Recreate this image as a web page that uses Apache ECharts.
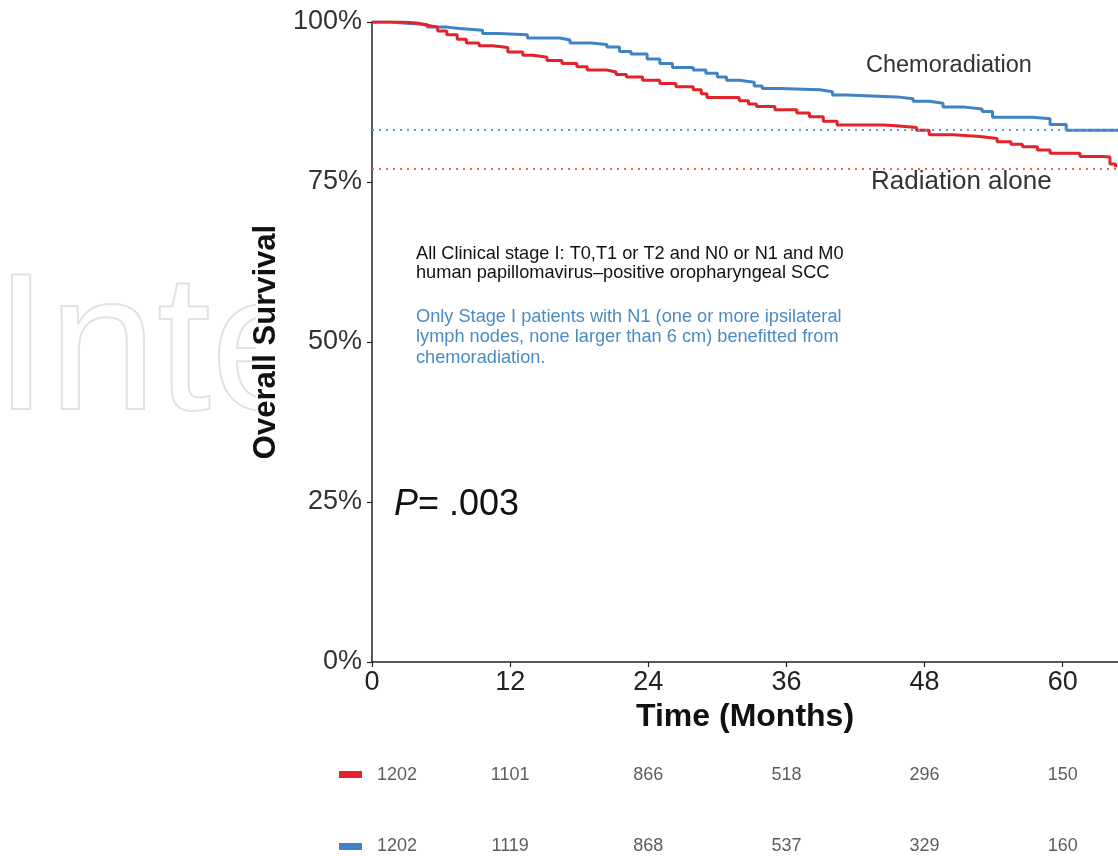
<!DOCTYPE html>
<html><head><meta charset="utf-8">
<script src="https://cdn.jsdelivr.net/npm/echarts@6/dist/echarts.min.js"></script>
<style>html,body{margin:0;padding:0;background:#fff}#c{width:1118px;height:856px}</style>
</head><body><div id="c"></div><script>
// ---- data ----
const chemoCurve = [
  [0,100],[1.6,99.8],[3,99.6],[4.8,99.2],[6.5,99.0],[7.6,98.7],[9.6,98.2],[11,98.0],
  [13.5,97.5],[16.3,97.2],[17.2,96.7],[19,96.5],[20.4,96.1],[21.5,95.4],[22.5,95.0],
  [23.9,94.2],[25,93.5],[26.1,92.9],[27.9,92.5],[29,92.0],[30,91.4],[30.8,90.9],
  [31.9,90.6],[33.2,90.0],[33.9,89.6],[35.5,89.4],[38.9,89.1],[40,88.6],[41.2,88.3],
  [45.6,88.0],[47,87.6],[48.4,87.3],[49.6,86.7],[51.5,86.4],[53,86.0],[53.9,85.1],
  [57.4,84.9],[58.9,84.0],[60.3,83.1],[64.8,83.1]
];
const radCurve = [
  [0,100],[2.7,99.8],[4.0,99.5],[4.8,99.2],[5.7,98.6],[6.5,98.0],[7.4,97.3],[8.2,96.7],
  [9.3,96.3],[10.5,96.0],[11.8,95.3],[13.1,94.8],[14,94.5],[15.2,94.0],[16.5,93.5],
  [17.8,93.0],[18.7,92.5],[20.4,92.2],[21.2,91.8],[22.1,91.4],[23.5,90.9],[25.0,90.4],
  [26.4,89.9],[27.9,89.4],[28.6,88.8],[29.1,88.2],[31.9,87.7],[32.7,87.2],[33.4,86.8],
  [35,86.3],[36.9,85.8],[38,85.2],[39.2,84.5],[40.4,83.9],[44.4,83.8],[45.5,83.5],
  [47.3,83.1],[48.4,82.4],[50.5,82.1],[52.8,81.8],[54.3,81.3],[55.5,80.9],[56.5,80.5],
  [57.8,80.0],[58.9,79.5],[61.5,79.0],[63.5,78.9],[64.1,77.8],[64.6,77.3]
];
const chemoRef = 83.1;   // dotted reference level, chemoradiation
const radRef = 77.0;     // dotted reference level, radiation alone
const xTicks = [0, 12, 24, 36, 48, 60];
const yTicks = [0, 25, 50, 75, 100];
const riskTimes = [0, 12, 24, 36, 48, 60];
const riskRad = [1202, 1101, 866, 518, 296, 150];
const riskChemo = [1202, 1119, 868, 537, 329, 160];
const seriesNames = ['Chemoradiation', 'Radiation alone'];
const pValueText = '= .003';
const noteBlack = ['All Clinical stage I: T0,T1 or T2 and N0 or N1 and M0',
                   'human papillomavirus\u2013positive oropharyngeal SCC'];
const noteBlue = ['Only Stage I patients with N1 (one or more ipsilateral',
                  'lymph nodes, none larger than 6 cm) benefitted from',
                  'chemoradiation.'];

// ---- style ----
const RED = '#e3232b', BLUE = '#3f83c5';
const SANS = '"Liberation Sans", Arial, Helvetica, sans-serif';
const X_MAX = 64.8;

const chart = echarts.init(document.getElementById('c'), null, {renderer: 'canvas'});

function riskRow(vals, yPos) {
  return riskTimes.map((t, i) => ({
    value: [t, yPos, vals[i]],
    label: i === 0 ? {align: 'left', offset: [5, 0]} : {}
  }));
}

const graphics = [
  // faint watermark (partly hidden behind plot area)
  {type: 'text', z: -3, left: -7, top: 257, style: {text: 'Inte', fill: 'rgba(255,255,255,0)', stroke: '#e2e2e2', lineWidth: 2, font: '195px ' + SANS}},
  {type: 'rect', z: -2, shape: {x: 256, y: 0, width: 862, height: 856}, style: {fill: '#fff'}},
  // curve labels
  {type: 'text', left: 866, top: 54, style: {text: seriesNames[0], fill: '#333', font: '23.5px ' + SANS}},
  {type: 'text', left: 871, top: 169, style: {text: seriesNames[1], fill: '#333', font: '26px ' + SANS}},
  // notes
  {type: 'text', left: 416, top: 244, style: {text: noteBlack.join('\n'), fill: '#111', font: '18.2px ' + SANS, lineHeight: 19.5}},
  {type: 'text', left: 416, top: 306.5, style: {text: noteBlue.join('\n'), fill: '#4b8bc3', font: '18.2px ' + SANS, lineHeight: 20.5}},
  // p-value
  {type: 'text', left: 394, top: 487, style: {
    text: '{i|P}{n|' + pValueText + '}',
    rich: {i: {fontStyle: 'italic', fontSize: 36, fontFamily: SANS, fill: '#111'},
           n: {fontSize: 36, fontFamily: SANS, fill: '#111'}}
  }},
  // risk table swatches
  {type: 'rect', shape: {x: 339, y: 771, width: 23, height: 7}, style: {fill: RED}},
  {type: 'rect', shape: {x: 339, y: 843, width: 23, height: 7}, style: {fill: BLUE}}
];

const option = {
  animation: false,
  backgroundColor: '#fff',
  graphic: graphics,
  grid: [
    {left: 372, top: 22, right: 0, bottom: 194},
    {left: 372, top: 775, right: 0, bottom: 10}
  ],
  xAxis: [
    {
      type: 'value', gridIndex: 0, min: 0, max: X_MAX, interval: 12,
      name: 'Time (Months)', nameLocation: 'middle', nameGap: 37,
      nameTextStyle: {fontFamily: SANS, fontWeight: 'bold', fontSize: 32, color: '#111'},
      axisLine: {show: true, lineStyle: {color: '#222', width: 1.5}},
      axisTick: {show: true, length: 5, lineStyle: {color: '#222', width: 1.2}, customValues: xTicks},
      axisLabel: {customValues: xTicks, margin: 7, fontFamily: SANS, fontSize: 27, color: '#222',
                  formatter: v => (v % 12 === 0 ? String(v) : '')},
      splitLine: {show: false}
    },
    {
      type: 'value', gridIndex: 1, min: 0, max: X_MAX, show: false
    }
  ],
  yAxis: [
    {
      type: 'value', gridIndex: 0, min: 0, max: 100, interval: 25,
      name: 'Overall Survival', nameLocation: 'middle', nameGap: 90,
      nameTextStyle: {fontFamily: SANS, fontWeight: 'bold', fontSize: 31, color: '#111'},
      axisLine: {show: true, lineStyle: {color: '#222', width: 1.5}},
      axisTick: {show: true, length: 5, lineStyle: {color: '#222', width: 1.2}},
      axisLabel: {margin: 10, fontFamily: SANS, fontSize: 27, color: '#333',
                  formatter: v => (yTicks.includes(v) ? v + '%' : '')},
      splitLine: {show: false}
    },
    {
      type: 'value', gridIndex: 1, min: 0, max: 1, show: false
    }
  ],
  series: [
    {
      name: seriesNames[0], type: 'line', step: 'end', xAxisIndex: 0, yAxisIndex: 0,
      data: chemoCurve, showSymbol: false, symbol: 'none',
      lineStyle: {color: BLUE, width: 3}, z: 3,
      markLine: {
        silent: true, symbol: 'none', label: {show: false},
        lineStyle: {color: '#5b95d4', type: [2, 5], width: 2},
        data: [{yAxis: chemoRef}]
      }
    },
    {
      name: seriesNames[1], type: 'line', step: 'end', xAxisIndex: 0, yAxisIndex: 0,
      data: radCurve, showSymbol: false, symbol: 'none',
      lineStyle: {color: RED, width: 3}, z: 4,
      markLine: {
        silent: true, symbol: 'none', label: {show: false},
        lineStyle: {color: '#f0625a', type: [2, 5], width: 2},
        data: [{yAxis: radRef}]
      }
    },
    {
      type: 'scatter', xAxisIndex: 1, yAxisIndex: 1, symbolSize: 0, clip: false,
      data: riskRow(riskRad, 1),
      label: {show: true, position: 'inside', formatter: p => String(p.value[2]),
              fontFamily: SANS, fontSize: 18, color: '#333'}
    },
    {
      type: 'scatter', xAxisIndex: 1, yAxisIndex: 1, symbolSize: 0, clip: false,
      data: riskRow(riskChemo, 0),
      label: {show: true, position: 'inside', formatter: p => String(p.value[2]),
              fontFamily: SANS, fontSize: 18, color: '#333'}
    }
  ]
};
chart.setOption(option);
</script></body></html>
